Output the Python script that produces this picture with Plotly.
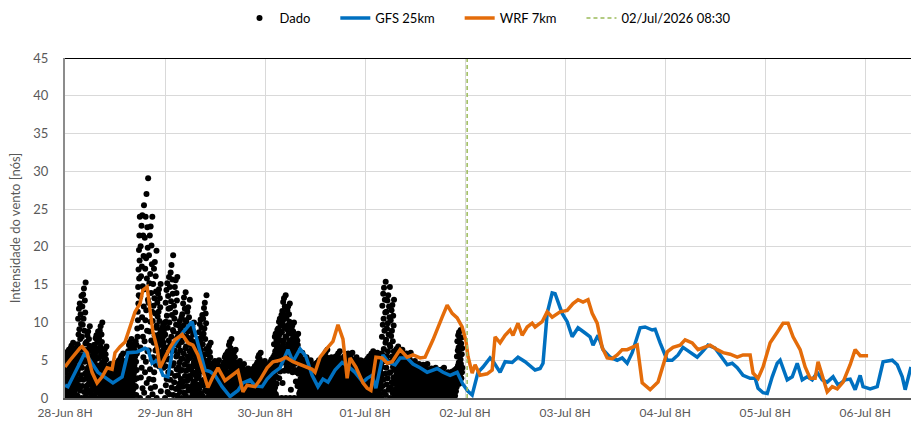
import pandas as pd
import plotly.graph_objects as go

# ---------------- data ----------------
start_time = "2026-06-28 08:00"
obs_freq = "3min"

# Observed wind (knots), 3-minute readings, one row per hour (20 readings)
obs_day1 = [
    0.0, 3.4, 1.7, 5.1, 0.7, 4.0, 2.4, 5.7, 1.0, 4.4, 2.7, 6.1, 0.3, 3.7, 2.0, 5.4, 1.3, 4.7, 3.0, 6.4,
    0.2, 3.9, 2.1, 5.8, 0.9, 4.7, 2.8, 6.6, 1.3, 5.1, 3.2, 6.9, 0.6, 4.3, 2.4, 6.2, 1.7, 5.4, 3.6, 7.3,
    0.0, 3.7, 1.8, 5.5, 0.7, 4.4, 2.6, 6.3, 1.1, 4.8, 2.9, 6.6, 0.4, 4.1, 2.2, 5.9, 1.5, 5.2, 3.3, 7.0,
    0.3, 7.1, 3.7, 10.5, 1.7, 8.4, 5.1, 11.8, 2.4, 9.1, 5.7, 12.5, 1.0, 7.8, 4.4, 11.1, 3.0, 9.8, 6.4, 13.5,
    0.0, 8.1, 4.0, 12.1, 1.6, 9.7, 5.6, 13.7, 2.4, 10.5, 6.4, 14.5, 0.8, 8.9, 4.8, 12.9, 3.2, 11.3, 7.2, 15.3,
    0.2, 5.0, 2.6, 7.4, 1.2, 5.9, 3.6, 8.3, 1.7, 6.4, 4.0, 8.8, 0.7, 5.5, 3.1, 7.8, 2.1, 6.9, 4.5, 9.5,
    0.0, 3.7, 1.8, 5.5, 0.7, 4.4, 2.6, 6.3, 1.1, 4.8, 2.9, 6.6, 0.4, 4.1, 2.2, 5.9, 1.5, 5.2, 3.3, 7.0,
    0.2, 4.7, 2.5, 7.0, 1.1, 5.6, 3.4, 7.9, 1.6, 6.1, 3.8, 8.3, 0.7, 5.2, 2.9, 7.4, 2.0, 6.5, 4.3, 8.8,
    0.0, 5.3, 2.6, 7.9, 1.1, 6.3, 3.7, 8.9, 1.6, 6.8, 4.2, 9.5, 0.5, 5.8, 3.2, 8.4, 2.1, 7.4, 4.7, 10.0,
    0.2, 3.7, 1.9, 5.4, 0.9, 4.4, 2.6, 6.1, 1.2, 4.7, 3.0, 6.5, 0.5, 4.0, 2.3, 5.8, 1.6, 5.1, 3.3, 6.8,
    0.0, 2.4, 1.2, 3.6, 0.5, 2.8, 1.7, 4.0, 0.7, 3.1, 1.9, 4.3, 0.2, 2.6, 1.4, 3.8, 0.9, 3.3, 2.1, 4.5,
    0.1, 2.1, 1.1, 3.1, 0.5, 2.5, 1.5, 3.5, 0.7, 2.7, 1.7, 3.7, 0.3, 2.3, 1.3, 3.3, 0.9, 2.9, 1.9, 3.9,
    0.0, 2.6, 1.3, 3.9, 0.5, 3.2, 1.8, 4.5, 0.8, 3.4, 2.1, 4.7, 0.3, 2.9, 1.6, 4.2, 1.1, 3.7, 2.4, 5.0,
    0.2, 3.2, 1.7, 4.7, 0.8, 3.8, 2.3, 5.3, 1.1, 4.1, 2.6, 5.6, 0.5, 3.5, 2.0, 5.0, 1.4, 4.4, 2.9, 5.9,
    0.0, 2.6, 1.3, 3.9, 0.5, 3.2, 1.8, 4.5, 0.8, 3.4, 2.1, 4.7, 0.3, 2.9, 1.6, 4.2, 1.1, 3.7, 2.4, 5.0,
    0.2, 4.2, 2.2, 6.2, 1.0, 5.0, 3.0, 7.0, 1.4, 5.4, 3.4, 7.4, 0.6, 4.6, 2.6, 6.6, 1.8, 5.8, 3.8, 7.8,
    0.0, 3.9, 2.0, 5.9, 0.8, 4.7, 2.8, 6.7, 1.2, 5.1, 3.2, 7.1, 0.4, 4.3, 2.4, 6.3, 1.6, 5.5, 3.6, 7.5,
    1.5, 4.8, 0.4, 7.0, 3.7, 5.9, 2.6, 9.2, 8.1, 11.4, 10.3, 14.7, 12.5, 17.0, 13.6, 19.6, 15.8, 21.5, 18.2, 24.0,
    0.0, 13.4, 6.7, 20.1, 2.7, 16.1, 9.4, 22.8, 4.0, 17.4, 10.7, 24.2, 1.3, 14.8, 8.1, 21.5, 5.4, 18.8, 12.1, 25.5,
    0.7, 14.4, 7.5, 21.2, 3.4, 17.1, 10.3, 24.0, 4.8, 18.5, 11.6, 27.0, 2.0, 15.8, 8.9, 22.6, 6.2, 19.9, 13.0, 29.1,
    0.0, 12.6, 6.3, 18.9, 2.5, 15.2, 8.8, 21.5, 3.8, 16.4, 10.1, 22.7, 1.3, 13.9, 7.6, 20.2, 5.1, 17.7, 11.4, 24.0,
    0.5, 10.2, 5.4, 15.1, 2.4, 12.2, 7.3, 17.1, 3.4, 13.2, 8.3, 18.0, 1.5, 11.2, 6.3, 16.1, 4.4, 14.1, 9.3, 19.5,
    0.0, 9.6, 6.6, 12.6, 4.8, 10.8, 7.8, 13.8, 5.4, 11.4, 8.4, 14.4, 4.2, 10.2, 7.2, 13.2, 6.0, 12.0, 9.0, 15.1,
    0.9, 7.0, 5.3, 8.7, 4.3, 7.7, 6.0, 9.3, 4.7, 8.0, 6.3, 9.7, 4.0, 7.3, 5.7, 9.0, 5.0, 8.3, 6.7, 10.0,
]
obs_day2 = [
    0.0, 8.4, 4.2, 12.6, 1.7, 10.1, 5.9, 14.3, 2.5, 10.9, 6.7, 15.2, 0.8, 9.3, 5.1, 13.5, 3.4, 11.8, 7.6, 16.0,
    0.5, 10.0, 5.2, 14.7, 2.4, 11.9, 7.1, 16.6, 3.3, 12.8, 8.1, 17.6, 1.4, 11.0, 6.2, 15.7, 4.3, 13.8, 9.0, 18.9,
    0.4, 8.8, 4.6, 12.2, 2.1, 10.5, 6.3, 14.7, 2.9, 11.3, 7.1, 15.6, 1.2, 9.7, 5.5, 13.9, 3.8, 12.9, 8.0, 16.0,
    0.3, 5.8, 3.0, 8.5, 1.4, 6.9, 4.1, 9.6, 1.9, 7.4, 4.7, 10.2, 0.8, 6.3, 3.6, 9.1, 2.5, 8.0, 5.2, 10.7,
    0.0, 7.4, 3.7, 11.1, 1.5, 8.8, 5.2, 12.5, 2.2, 9.6, 5.9, 13.3, 0.7, 8.1, 4.4, 11.8, 2.9, 10.3, 6.6, 14.0,
    0.3, 6.8, 3.6, 10.1, 1.6, 8.1, 4.9, 11.4, 2.3, 8.8, 5.5, 12.0, 1.0, 7.5, 4.2, 10.7, 2.9, 9.4, 6.2, 13.0,
    0.0, 5.3, 2.6, 7.9, 1.1, 6.3, 3.7, 8.9, 1.6, 6.8, 4.2, 9.5, 0.5, 5.8, 3.2, 8.4, 2.1, 7.4, 4.7, 10.0,
    0.2, 4.2, 2.2, 6.2, 1.0, 5.0, 3.0, 7.0, 1.4, 5.4, 3.4, 7.4, 0.6, 4.6, 2.6, 6.6, 1.8, 5.8, 3.8, 7.8,
    0.0, 5.8, 2.9, 8.7, 1.2, 6.9, 4.1, 9.8, 1.7, 7.5, 4.6, 10.4, 0.6, 6.4, 3.5, 9.3, 2.3, 8.1, 5.2, 11.0,
    0.3, 7.1, 3.7, 10.5, 1.7, 8.5, 5.1, 11.9, 2.4, 9.2, 5.8, 12.6, 1.0, 7.8, 4.4, 11.2, 3.1, 9.9, 6.5, 13.6,
    0.0, 3.8, 1.9, 5.8, 0.8, 4.6, 2.7, 6.5, 1.2, 5.0, 3.1, 6.9, 0.4, 4.2, 2.3, 6.1, 1.5, 5.4, 3.5, 7.3,
    0.1, 2.6, 1.4, 3.9, 0.6, 3.1, 1.9, 4.4, 0.9, 3.4, 2.1, 4.6, 0.4, 2.9, 1.6, 4.1, 1.1, 3.6, 2.4, 4.9,
    0.0, 2.6, 1.3, 3.9, 0.5, 3.2, 1.8, 4.5, 0.8, 3.4, 2.1, 4.7, 0.3, 2.9, 1.6, 4.2, 1.1, 3.7, 2.4, 5.0,
    0.1, 2.4, 1.2, 3.5, 0.6, 2.8, 1.7, 3.9, 0.8, 3.0, 1.9, 4.2, 0.3, 2.6, 1.5, 3.7, 1.0, 3.3, 2.1, 4.4,
    0.0, 3.2, 1.6, 4.7, 0.6, 3.8, 2.2, 5.4, 0.9, 4.1, 2.5, 5.7, 0.3, 3.5, 1.9, 5.1, 1.3, 4.4, 2.8, 6.0,
    0.2, 4.2, 2.2, 6.2, 1.0, 5.0, 3.0, 7.0, 1.4, 5.4, 3.4, 7.4, 0.6, 4.6, 2.6, 6.6, 1.8, 5.8, 3.8, 7.8,
    0.0, 3.4, 1.7, 5.1, 0.7, 4.0, 2.4, 5.7, 1.0, 4.4, 2.7, 6.1, 0.3, 3.7, 2.0, 5.4, 1.3, 4.7, 3.0, 6.4,
    0.1, 2.6, 1.4, 3.9, 0.6, 3.1, 1.9, 4.4, 0.9, 3.4, 2.1, 4.6, 0.4, 2.9, 1.6, 4.1, 1.1, 3.6, 2.4, 4.9,
    0.0, 2.4, 1.2, 3.6, 0.5, 2.8, 1.7, 4.0, 0.7, 3.1, 1.9, 4.3, 0.2, 2.6, 1.4, 3.8, 0.9, 3.3, 2.1, 4.5,
    0.1, 2.1, 1.1, 3.1, 0.5, 2.5, 1.5, 3.5, 0.7, 2.7, 1.7, 3.7, 0.3, 2.3, 1.3, 3.3, 0.9, 2.9, 1.9, 3.9,
    0.0, 2.0, 1.0, 3.0, 0.4, 2.4, 1.4, 3.4, 0.6, 2.6, 1.6, 3.6, 0.2, 2.2, 1.2, 3.2, 0.8, 2.8, 1.8, 3.8,
    0.1, 2.4, 1.2, 3.5, 0.6, 2.8, 1.7, 3.9, 0.8, 3.0, 1.9, 4.2, 0.3, 2.6, 1.5, 3.7, 1.0, 3.3, 2.1, 4.4,
    0.0, 3.2, 1.6, 4.7, 0.6, 3.8, 2.2, 5.4, 0.9, 4.1, 2.5, 5.7, 0.3, 3.5, 1.9, 5.1, 1.3, 4.4, 2.8, 6.0,
    0.1, 2.6, 1.4, 3.9, 0.6, 3.1, 1.9, 4.4, 0.9, 3.4, 2.1, 4.6, 0.4, 2.9, 1.6, 4.1, 1.1, 3.6, 2.4, 4.9,
]
obs_day3 = [
    0.0, 2.4, 1.2, 3.6, 0.5, 2.8, 1.7, 4.0, 0.7, 3.1, 1.9, 4.3, 0.2, 2.6, 1.4, 3.8, 0.9, 3.3, 2.1, 4.5,
    0.1, 2.9, 1.5, 4.3, 0.7, 3.4, 2.1, 4.8, 1.0, 3.7, 2.3, 5.1, 0.4, 3.2, 1.8, 4.5, 1.2, 4.0, 2.6, 5.4,
    0.0, 4.7, 2.4, 7.1, 0.9, 5.7, 3.3, 8.1, 1.4, 6.2, 3.8, 8.5, 0.5, 5.2, 2.8, 7.6, 1.9, 6.6, 4.3, 9.0,
    0.0, 7.2, 5.1, 9.2, 3.9, 8.0, 5.9, 10.1, 2.6, 8.4, 6.3, 10.5, 3.5, 7.6, 5.5, 9.6, 4.7, 8.8, 6.7, 11.0,
    0.0, 8.7, 5.9, 11.5, 2.0, 9.8, 7.0, 12.7, 4.7, 10.4, 7.6, 13.2, 3.6, 9.3, 6.4, 12.1, 5.3, 11.0, 8.1, 13.6,
    0.0, 8.1, 5.6, 10.6, 4.1, 9.1, 6.6, 11.6, 4.6, 9.6, 7.1, 12.1, 3.6, 8.6, 6.1, 11.1, 5.1, 10.1, 7.6, 12.5,
    0.0, 6.6, 4.8, 8.5, 1.1, 7.4, 5.6, 9.2, 4.1, 7.7, 5.9, 9.6, 3.4, 7.0, 5.2, 8.8, 4.5, 8.1, 6.3, 10.0,
    0.0, 5.9, 4.5, 7.3, 3.7, 6.5, 5.1, 7.9, 2.2, 6.8, 5.4, 8.2, 3.4, 6.2, 4.8, 7.6, 1.6, 7.0, 5.6, 8.5,
    0.0, 3.2, 1.6, 4.7, 0.6, 3.8, 2.2, 5.4, 0.9, 4.1, 2.5, 5.7, 0.3, 3.5, 1.9, 5.1, 1.3, 4.4, 2.8, 6.0,
    0.1, 2.9, 1.5, 4.3, 0.7, 3.4, 2.1, 4.8, 1.0, 3.7, 2.3, 5.1, 0.4, 3.2, 1.8, 4.5, 1.2, 4.0, 2.6, 5.4,
    0.0, 2.6, 1.3, 3.9, 0.5, 3.2, 1.8, 4.5, 0.8, 3.4, 2.1, 4.7, 0.3, 2.9, 1.6, 4.2, 1.1, 3.7, 2.4, 5.0,
    0.1, 2.4, 1.3, 3.6, 0.6, 2.9, 1.7, 4.0, 0.8, 3.1, 2.0, 4.3, 0.3, 2.6, 1.5, 3.8, 1.0, 3.3, 2.2, 4.5,
    0.0, 2.6, 1.3, 3.9, 0.5, 3.2, 1.8, 4.5, 0.8, 3.4, 2.1, 4.7, 0.3, 2.9, 1.6, 4.2, 1.1, 3.7, 2.4, 5.0,
    0.1, 2.9, 1.5, 4.3, 0.7, 3.4, 2.1, 4.8, 1.0, 3.7, 2.3, 5.1, 0.4, 3.2, 1.8, 4.5, 1.2, 4.0, 2.6, 5.4,
    0.0, 3.4, 1.7, 5.1, 0.7, 4.0, 2.4, 5.7, 1.0, 4.4, 2.7, 6.1, 0.3, 3.7, 2.0, 5.4, 1.3, 4.7, 3.0, 6.4,
    0.1, 2.9, 1.5, 4.3, 0.7, 3.4, 2.1, 4.8, 1.0, 3.7, 2.3, 5.1, 0.4, 3.2, 1.8, 4.5, 1.2, 4.0, 2.6, 5.4,
    0.0, 2.9, 1.4, 4.3, 0.6, 3.5, 2.0, 4.9, 0.9, 3.8, 2.3, 5.2, 0.3, 3.2, 1.7, 4.6, 1.2, 4.1, 2.6, 5.5,
    0.2, 3.4, 1.8, 5.0, 0.8, 4.0, 2.4, 5.6, 1.1, 4.3, 2.7, 5.9, 0.5, 3.7, 2.1, 5.3, 1.4, 4.6, 3.0, 6.2,
    0.0, 2.9, 1.4, 4.3, 0.6, 3.5, 2.0, 4.9, 0.9, 3.8, 2.3, 5.2, 0.3, 3.2, 1.7, 4.6, 1.2, 4.1, 2.6, 5.5,
    0.2, 3.2, 1.7, 4.7, 0.8, 3.8, 2.3, 5.3, 1.1, 4.1, 2.6, 5.6, 0.5, 3.5, 2.0, 5.0, 1.4, 4.4, 2.9, 5.9,
    0.0, 3.2, 1.6, 4.7, 0.6, 3.8, 2.2, 5.4, 0.9, 4.1, 2.5, 5.7, 0.3, 3.5, 1.9, 5.1, 1.3, 4.4, 2.8, 6.0,
    0.1, 2.9, 1.5, 4.3, 0.7, 3.4, 2.1, 4.8, 1.0, 3.7, 2.3, 5.1, 0.4, 3.2, 1.8, 4.5, 1.2, 4.0, 2.6, 5.4,
    0.0, 2.6, 1.3, 3.9, 0.5, 3.2, 1.8, 4.5, 0.8, 3.4, 2.1, 4.7, 0.3, 2.9, 1.6, 4.2, 1.1, 3.7, 2.4, 5.0,
    0.1, 2.6, 1.4, 3.9, 0.6, 3.1, 1.9, 4.4, 0.9, 3.4, 2.1, 4.6, 0.4, 2.9, 1.6, 4.1, 1.1, 3.6, 2.4, 4.9,
]
obs_day4 = [
    0.0, 2.9, 1.4, 4.3, 0.6, 3.5, 2.0, 4.9, 0.9, 3.8, 2.3, 5.2, 0.3, 3.2, 1.7, 4.6, 1.2, 4.1, 2.6, 5.5,
    0.2, 3.4, 1.8, 5.0, 0.8, 4.0, 2.4, 5.6, 1.1, 4.3, 2.7, 5.9, 0.5, 3.7, 2.1, 5.3, 1.4, 4.6, 3.0, 6.2,
    0.0, 3.2, 1.6, 4.7, 0.6, 3.8, 2.2, 5.4, 0.9, 4.1, 2.5, 5.7, 0.3, 3.5, 1.9, 5.1, 1.3, 4.4, 2.8, 6.0,
    0.2, 3.2, 1.7, 4.7, 0.8, 3.8, 2.3, 5.3, 1.1, 4.1, 2.6, 5.6, 0.5, 3.5, 2.0, 5.0, 1.4, 4.4, 2.9, 5.9,
    0.0, 8.1, 4.1, 12.2, 1.6, 9.7, 5.7, 13.8, 2.4, 10.5, 6.5, 14.6, 0.8, 8.9, 4.9, 13.0, 3.2, 11.3, 7.3, 15.4,
    0.4, 7.7, 4.0, 11.4, 1.8, 9.2, 5.5, 12.9, 2.6, 9.9, 6.2, 13.6, 1.1, 8.4, 4.8, 12.1, 3.3, 10.7, 7.0, 14.7,
    0.0, 6.8, 3.4, 10.3, 1.4, 8.2, 4.8, 11.6, 2.1, 8.9, 5.5, 12.3, 0.7, 7.5, 4.1, 10.9, 2.7, 9.6, 6.2, 13.0,
    0.2, 3.7, 1.9, 5.4, 0.9, 4.4, 2.6, 6.1, 1.2, 4.7, 3.0, 6.5, 0.5, 4.0, 2.3, 5.8, 1.6, 5.1, 3.3, 6.8,
    0.0, 3.4, 1.7, 5.1, 0.7, 4.0, 2.4, 5.7, 1.0, 4.4, 2.7, 6.1, 0.3, 3.7, 2.0, 5.4, 1.3, 4.7, 3.0, 6.4,
    0.2, 3.2, 1.7, 4.7, 0.8, 3.8, 2.3, 5.3, 1.1, 4.1, 2.6, 5.6, 0.5, 3.5, 2.0, 5.0, 1.4, 4.4, 2.9, 5.9,
    0.0, 3.2, 1.6, 4.7, 0.6, 3.8, 2.2, 5.4, 0.9, 4.1, 2.5, 5.7, 0.3, 3.5, 1.9, 5.1, 1.3, 4.4, 2.8, 6.0,
    0.1, 2.6, 1.4, 3.9, 0.6, 3.1, 1.9, 4.4, 0.9, 3.4, 2.1, 4.6, 0.4, 2.9, 1.6, 4.1, 1.1, 3.6, 2.4, 4.9,
    0.0, 2.4, 1.2, 3.6, 0.5, 2.8, 1.7, 4.0, 0.7, 3.1, 1.9, 4.3, 0.2, 2.6, 1.4, 3.8, 0.9, 3.3, 2.1, 4.5,
    0.1, 2.4, 1.2, 3.5, 0.6, 2.8, 1.7, 3.9, 0.8, 3.0, 1.9, 4.2, 0.3, 2.6, 1.5, 3.7, 1.0, 3.3, 2.1, 4.4,
    0.0, 2.4, 1.2, 3.6, 0.5, 2.8, 1.7, 4.0, 0.7, 3.1, 1.9, 4.3, 0.2, 2.6, 1.4, 3.8, 0.9, 3.3, 2.1, 4.5,
    0.1, 2.1, 1.1, 3.1, 0.5, 2.5, 1.5, 3.5, 0.7, 2.7, 1.7, 3.7, 0.3, 2.3, 1.3, 3.3, 0.9, 2.9, 1.9, 3.9,
    0.0, 2.1, 1.1, 3.2, 0.4, 2.5, 1.5, 3.6, 0.6, 2.7, 1.7, 3.8, 0.2, 2.3, 1.3, 3.4, 0.8, 2.9, 1.9, 4.0,
    0.1, 2.0, 1.0, 2.9, 0.5, 2.4, 1.4, 3.3, 0.7, 2.6, 1.6, 3.5, 0.3, 2.2, 1.2, 3.1, 0.9, 2.8, 1.8, 3.7,
    0.0, 2.1, 1.1, 3.2, 0.4, 2.5, 1.5, 3.6, 0.6, 2.7, 1.7, 3.8, 0.2, 2.3, 1.3, 3.4, 0.8, 2.9, 1.9, 4.0,
    0.1, 1.8, 1.0, 2.7, 0.4, 2.2, 1.3, 3.1, 0.6, 2.4, 1.5, 3.2, 0.3, 2.0, 1.1, 2.9, 0.8, 2.5, 1.7, 3.4,
    0.0, 1.8, 0.9, 2.8, 0.4, 2.2, 1.3, 3.1, 0.6, 2.4, 1.5, 3.3, 0.2, 2.0, 1.1, 2.9, 0.7, 2.6, 1.7, 3.5,
    0.1, 2.1, 1.1, 3.1, 0.5, 2.5, 1.5, 3.5, 0.7, 2.7, 1.7, 3.7, 0.3, 2.3, 1.3, 3.3, 0.9, 2.9, 1.9, 3.9,
    1.5, 5.5, 3.5, 7.5, 2.3, 6.3, 4.3, 8.3, 2.7, 6.7, 4.7, 8.7, 1.9, 5.9, 3.9, 7.9, 3.1, 7.1, 5.1, 9.0,
    4.5, 7.2, 2.6, 8.0, 5.8, 3.4, 6.6, 4.0,
]

# Forecasts: hours after start_time and wind (knots)
gfs_hours = [0.0, 0.7, 4.8, 7.9, 11.5, 13.7, 15.1, 17.3, 19.2, 19.9, 20.9, 22.1, 23.5, 24.7,
             25.9, 28.3, 30.5, 31.9, 33.6, 34.8, 36.0, 37.7, 39.6, 41.5, 42.7, 44.4, 45.6,
             47.3, 48.5, 49.9, 51.6, 53.5, 54.7, 56.4, 57.8, 59.3, 60.7, 61.9, 63.1, 64.8,
             66.5, 67.9, 69.6, 71.5, 72.5, 73.7, 74.6, 76.3, 77.5, 79.2, 80.4, 82.1, 83.5,
             85.2, 86.9, 89.3, 90.7, 92.4, 94.1, 95.5, 96.7, 97.7, 99.1, 100.3, 102.0, 102.7,
             104.4, 105.6, 107.3, 108.7, 110.4, 112.8, 114.0, 114.7, 115.7, 116.9, 117.6,
             119.3, 120.5, 121.7, 123.1, 124.8, 126.0, 126.7, 127.9, 129.1, 130.8, 132.5,
             133.7, 134.9, 136.1, 138.0, 139.2, 140.9, 141.6, 142.8, 144.5, 145.7, 147.1,
             148.3, 150.0, 151.7, 152.9, 154.3, 156.0, 157.2, 158.9, 160.1, 161.3, 162.7,
             164.4, 165.6, 166.3, 167.5, 168.5, 169.7, 170.9, 171.6, 173.3, 174.5, 175.7,
             176.9, 178.1, 179.3, 180.5, 181.7, 182.9, 184.3, 185.5, 187.2, 188.4, 189.6,
             190.8, 191.5, 193.2, 194.9, 196.3, 198.5, 199.7, 200.9, 201.6, 203.0]
gfs_kt = [1.7, 1.5, 6.0, 3.4, 2.0, 2.8, 6.0, 6.1, 6.6, 6.4, 4.6, 5.0, 3.0, 2.8,
          6.7, 8.7, 10.1, 7.2, 3.7, 3.5, 3.0, 1.5, 0.2, 1.0, 2.0, 2.4, 1.6,
          1.5, 2.5, 3.3, 4.0, 6.4, 4.8, 6.5, 5.5, 3.0, 1.5, 2.5, 2.1, 3.7,
          4.7, 4.2, 3.4, 2.1, 2.6, 3.0, 1.3, 5.7, 4.8, 4.4, 5.3, 5.3, 4.5,
          4.0, 3.4, 3.9, 3.4, 3.0, 3.4, 1.8, 0.9, 0.4, 3.4, 4.1, 5.3, 4.9,
          3.4, 4.8, 4.7, 5.4, 4.8, 3.7, 3.9, 4.6, 11.2, 13.9, 13.8,
          11.2, 10.1, 8.1, 9.3, 8.6, 8.1, 7.0, 8.3, 6.4, 5.4, 5.0,
          5.3, 4.6, 6.0, 9.3, 9.4, 9.0, 9.1, 7.3, 5.0, 5.0, 5.7,
          6.7, 6.1, 5.4, 6.1, 7.0, 6.6, 5.7, 4.4, 4.6, 4.0, 3.0,
          2.6, 2.6, 1.3, 0.7, 0.6, 2.8, 4.6, 5.0, 2.4, 2.8, 4.6,
          2.4, 2.8, 2.4, 3.4, 2.4, 2.1, 2.8, 1.7, 2.4, 2.5, 1.1,
          3.0, 1.5, 1.2, 1.5, 4.8, 5.0, 4.4, 2.8, 1.1, 4.1]

wrf_hours = [0.0, 1.2, 3.6, 4.1, 5.3, 6.5, 7.7, 8.9, 10.1, 11.3, 12.0, 13.2, 14.4, 15.6,
             16.8, 18.0, 18.7, 19.7, 20.4, 21.1, 22.1, 22.8, 24.0, 25.2, 26.4, 28.1, 29.5,
             30.7, 31.9, 33.1, 34.3, 35.5, 36.7, 38.4, 40.1, 41.5, 42.7, 43.7, 45.6, 46.8,
             48.5, 49.9, 51.6, 53.0, 54.7, 56.4, 58.1, 59.3, 60.0, 61.2, 62.9, 64.3, 65.5,
             66.7, 67.7, 68.4, 69.8, 71.5, 72.5, 73.4, 74.6, 76.1, 77.3, 78.5, 80.4, 82.1,
             83.5, 85.2, 86.4, 88.3, 90.5, 91.7, 92.9, 94.1, 95.3, 96.2, 96.7, 97.7, 98.4,
             99.6, 101.3, 102.5, 103.2, 104.4, 105.6, 106.8, 107.5, 108.7, 109.7, 110.9,
             112.1, 112.8, 114.5, 115.7, 116.9, 118.8, 120.5, 121.9, 123.1, 124.3, 125.5,
             126.5, 127.7, 128.9, 130.1, 131.3, 132.5, 133.7, 134.9, 136.1, 137.3, 138.5,
             140.4, 142.3, 143.5, 144.5, 145.9, 147.6, 148.8, 150.5, 151.9, 153.6, 154.8,
             156.5, 157.9, 159.6, 161.3, 162.7, 164.4, 165.1, 166.3, 167.5, 169.2, 170.9,
             172.3, 173.5, 174.7, 176.4, 177.6, 178.8, 180.0, 180.7, 181.7, 182.9, 184.1,
             185.3, 186.7, 188.4, 189.6, 190.8, 192.7]
wrf_kt = [4.1, 5.0, 6.6, 6.8, 6.0, 3.4, 2.0, 2.8, 4.0, 3.8, 6.0, 6.8, 7.4, 9.4,
          11.4, 12.5, 14.3, 14.7, 11.2, 8.7, 6.6, 4.0, 5.4, 6.7, 7.7, 8.4, 7.3,
          7.0, 5.7, 3.7, 1.4, 2.8, 4.0, 2.3, 3.0, 3.6, 0.8, 1.7, 1.5, 2.4,
          4.0, 4.8, 5.0, 5.4, 4.8, 4.4, 4.1, 3.8, 3.4, 5.4, 6.6, 7.5, 9.7,
          7.8, 2.6, 5.3, 4.1, 2.0, 1.3, 1.0, 5.4, 5.3, 4.6, 4.8, 6.4, 5.4,
          5.7, 5.3, 5.4, 7.7, 10.7, 12.3, 11.2, 10.6, 9.4, 7.6, 5.5, 3.3, 4.4,
          3.0, 3.2, 3.7, 8.1, 7.3, 8.3, 9.0, 8.3, 9.9, 8.3, 9.4,
          9.9, 9.4, 10.1, 11.4, 10.7, 11.4, 11.6, 12.5, 13.0, 12.7, 13.0,
          11.2, 9.9, 6.7, 5.3, 5.2, 5.7, 6.4, 6.4, 6.7, 7.0, 2.0,
          1.1, 2.1, 4.1, 6.1, 6.7, 7.0, 7.7, 7.3, 6.4, 6.7, 7.0,
          6.4, 6.0, 5.8, 5.4, 5.7, 5.7, 3.3, 2.6, 4.1, 7.3, 8.7,
          9.9, 9.9, 8.1, 6.4, 4.1, 2.6, 2.6, 4.8, 2.8, 0.8, 1.5,
          1.2, 2.1, 4.4, 6.4, 5.6, 5.6]

forecast_issue = "2026-07-02 08:30"
issue_label = "02/Jul/2026 08:30"
series_names = ["Dado", "GFS 25km", "WRF 7km"]

x_tick_labels = ["28-Jun 8H", "29-Jun 8H", "30-Jun 8H", "01-Jul 8H", "02-Jul 8H",
                 "03-Jul 8H", "04-Jul 8H", "05-Jul 8H", "06-Jul 8H"]
y_ticks = [0, 5, 10, 15, 20, 25, 30, 35, 40, 45]
axis_span_hours = 203

# ---------------- build ----------------
t0 = pd.Timestamp(start_time)
obs_values = obs_day1 + obs_day2 + obs_day3 + obs_day4
obs_times = pd.date_range(t0, periods=len(obs_values), freq=obs_freq)
gfs_times = [t0 + pd.Timedelta(hours=h) for h in gfs_hours]
wrf_times = [t0 + pd.Timedelta(hours=h) for h in wrf_hours]
tick_times = pd.date_range(t0, periods=len(x_tick_labels), freq="D")
x_end = t0 + pd.Timedelta(hours=axis_span_hours)

FONT = "Lato"
GREY = "#595959"
PAD = "\u00a0" * 6  # extra spacing between legend entries

fig = go.Figure()
fig.add_trace(go.Scatter(x=obs_times, y=obs_values, mode="markers", name=series_names[0] + PAD,
                         marker=dict(color="black", size=6)))
fig.add_trace(go.Scatter(x=gfs_times, y=gfs_kt, mode="lines", name=series_names[1] + PAD,
                         line=dict(color="#0070C0", width=3.5)))
fig.add_trace(go.Scatter(x=wrf_times, y=wrf_kt, mode="lines", name=series_names[2] + PAD,
                         line=dict(color="#E46C0A", width=3.5)))
fig.add_trace(go.Scatter(x=[forecast_issue, forecast_issue], y=[y_ticks[0], y_ticks[-1]],
                         mode="lines", name=issue_label,
                         line=dict(color="#9BBB59", width=1.5, dash="4px,3px")))

fig.add_shape(type="line", xref="paper", x0=0, x1=1, yref="y",
              y0=y_ticks[-1], y1=y_ticks[-1], line=dict(color="black", width=2))

fig.update_layout(
    width=911, height=424,
    margin=dict(l=65, r=0, t=58, b=26, autoexpand=False),
    paper_bgcolor="white", plot_bgcolor="white",
    font=dict(family=FONT, size=13, color="black"),
    showlegend=True,
    legend=dict(orientation="h", x=0.5, xanchor="center", y=1.1176, yanchor="middle",
                font=dict(family=FONT, size=13, color="black"), itemwidth=30,
                bgcolor="rgba(0,0,0,0)"),
    xaxis=dict(type="date", range=[t0, x_end], tickvals=tick_times, ticktext=x_tick_labels,
               showgrid=True, gridcolor="#d9d9d9", gridwidth=1, zeroline=False,
               showline=True, linecolor=GREY, linewidth=2, ticks="", automargin=False,
               ticklabelstandoff=3,
               tickfont=dict(family=FONT, size=12, color=GREY)),
    yaxis=dict(range=[0, 45], tickvals=y_ticks, showgrid=True, gridcolor="#d9d9d9",
               gridwidth=1, zeroline=False, showline=True, linecolor="#8c8c8c",
               linewidth=2, ticks="", ticklabelstandoff=12, automargin=False,
               tickfont=dict(family=FONT, size=13, color=GREY),
               title=dict(text="Intensidade do vento [nós]", standoff=10,
                          font=dict(family=FONT, size=13, color=GREY))),
)

# remove the browser's default page margin so the figure sits at the window origin
fig.write_html("out.html", config={"displayModeBar": False},
               post_script="document.body.style.margin='0';")
